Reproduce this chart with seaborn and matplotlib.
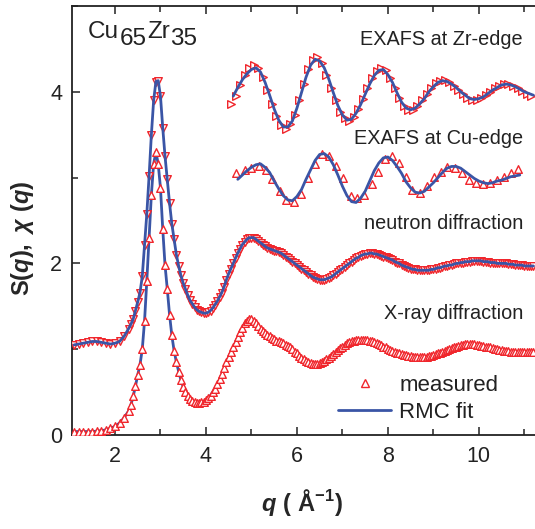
import numpy as np
import pandas as pd
import seaborn as sns
import matplotlib
matplotlib.use("Agg")
import matplotlib.pyplot as plt
from matplotlib.lines import Line2D
from matplotlib.ticker import MultipleLocator
from matplotlib.transforms import IdentityTransform

# ---------------------------------------------------------------- data
# momentum transfer grid of the diffraction data (1/Angstrom)
q_diff = np.round(np.concatenate([np.arange(1.1, 2.31, 0.1),
                                  np.arange(2.35, 11.201, 0.05)]), 2)

# X-ray diffraction S(q)
s_xray = [
    0.04, 0.04, 0.04, 0.04, 0.04, 0.045, 0.05, 0.06, 0.08, 0.10, 0.14, 0.20, 0.28,
    0.35, 0.45, 0.57, 0.70, 0.82, 1.00, 1.33, 1.80, 2.30, 2.80,
    3.16, 3.30, 3.16, 2.88, 2.40, 1.98, 1.70, 1.40, 1.16, 0.98,
    0.85, 0.74, 0.64, 0.56, 0.50, 0.45, 0.42, 0.40, 0.38, 0.37,
    0.37, 0.38, 0.39, 0.41, 0.43, 0.46, 0.50, 0.54, 0.59, 0.65,
    0.71, 0.78, 0.85, 0.91, 0.97, 1.02, 1.08, 1.14, 1.20, 1.25,
    1.30, 1.33, 1.35, 1.35, 1.33, 1.30, 1.27, 1.24, 1.21, 1.19,
    1.17, 1.15, 1.13, 1.12, 1.10, 1.09, 1.08, 1.07, 1.05, 1.04,
    1.02, 1.00, 0.97, 0.95, 0.92, 0.90, 0.88, 0.86, 0.85, 0.84,
    0.83, 0.83, 0.83, 0.84, 0.85, 0.86, 0.88, 0.90, 0.92, 0.94,
    0.97, 0.99, 1.01, 1.03, 1.05, 1.07, 1.08, 1.09, 1.10, 1.11,
    1.11, 1.11, 1.11, 1.11, 1.11, 1.10, 1.09, 1.08, 1.07, 1.06,
    1.05, 1.03, 1.02, 1.00, 0.99, 0.98, 0.97, 0.96, 0.95, 0.94,
    0.93, 0.93, 0.92, 0.92, 0.91, 0.91, 0.91, 0.91, 0.91, 0.91,
    0.91, 0.92, 0.92, 0.93, 0.94, 0.95, 0.96, 0.97, 0.98, 0.99,
    1.00, 1.01, 1.02, 1.03, 1.04, 1.05, 1.05, 1.06, 1.06, 1.06,
    1.06, 1.06, 1.05, 1.05, 1.04, 1.04, 1.03, 1.02, 1.02, 1.01,
    1.00, 1.00, 0.99, 0.99, 0.98, 0.98, 0.98, 0.97, 0.97, 0.97,
    0.97, 0.97, 0.97, 0.97, 0.97, 0.97, 0.97, 0.97,
]

# neutron diffraction S(q), shifted up by one
s_neutron = [
    1.05, 1.06, 1.07, 1.08, 1.09, 1.09, 1.08, 1.07, 1.06, 1.07, 1.09, 1.15, 1.24,
    1.29, 1.35, 1.45, 1.55, 1.66, 1.85, 2.22, 2.58, 3.02, 3.50,
    3.90, 4.12, 4.13, 3.95, 3.58, 3.25, 2.98, 2.70, 2.46, 2.28,
    2.10, 1.97, 1.86, 1.77, 1.70, 1.63, 1.57, 1.53, 1.49, 1.46,
    1.44, 1.43, 1.42, 1.42, 1.43, 1.45, 1.48, 1.52, 1.56, 1.61,
    1.66, 1.73, 1.81, 1.88, 1.94, 2.00, 2.06, 2.12, 2.17, 2.22,
    2.25, 2.28, 2.30, 2.30, 2.30, 2.28, 2.26, 2.24, 2.22, 2.20,
    2.18, 2.17, 2.16, 2.15, 2.14, 2.13, 2.12, 2.10, 2.08, 2.06,
    2.04, 2.02, 2.00, 1.98, 1.96, 1.94, 1.92, 1.90, 1.88, 1.86,
    1.84, 1.83, 1.82, 1.81, 1.81, 1.81, 1.82, 1.83, 1.84, 1.86,
    1.88, 1.90, 1.92, 1.94, 1.96, 1.98, 2.00, 2.02, 2.04, 2.06,
    2.07, 2.09, 2.10, 2.11, 2.11, 2.12, 2.12, 2.11, 2.11, 2.10,
    2.09, 2.08, 2.07, 2.06, 2.05, 2.04, 2.02, 2.01, 2.00, 1.98,
    1.97, 1.96, 1.95, 1.94, 1.93, 1.93, 1.92, 1.92, 1.92, 1.92,
    1.92, 1.92, 1.93, 1.93, 1.94, 1.95, 1.95, 1.96, 1.97, 1.97,
    1.98, 1.98, 1.99, 2.00, 2.00, 2.01, 2.01, 2.02, 2.02, 2.02,
    2.03, 2.03, 2.03, 2.03, 2.03, 2.02, 2.02, 2.02, 2.01, 2.01,
    2.01, 2.00, 2.00, 2.00, 2.00, 2.00, 1.99, 1.99, 1.99, 1.98,
    1.98, 1.98, 1.98, 1.97, 1.97, 1.97, 1.97, 1.97,
]

# EXAFS at the Zr edge (shifted to ~4)
q_zr_fit = np.round(np.arange(4.6, 11.201, 0.1), 2)
chi_zr_fit = [
    3.95, 4.05, 4.14, 4.21, 4.26, 4.28, 4.23, 4.11, 3.96, 3.80,
    3.67, 3.59, 3.59, 3.66, 3.81, 3.99, 4.17, 4.31, 4.38, 4.36,
    4.28, 4.15, 3.99, 3.84, 3.73, 3.67, 3.68, 3.75, 3.85, 3.97,
    4.09, 4.19, 4.25, 4.26, 4.20, 4.11, 3.99, 3.88, 3.81, 3.79,
    3.81, 3.86, 3.92, 4.00, 4.06, 4.11, 4.13, 4.12, 4.09, 4.05,
    4.00, 3.96, 3.92, 3.91, 3.92, 3.94, 3.98, 4.02, 4.05, 4.08,
    4.09, 4.08, 4.06, 4.03, 4.00, 3.98, 3.96,
]
q_zr_meas = np.round(np.arange(4.55, 11.151, 0.1), 2)
chi_zr_meas = [
    3.86, 3.95, 4.08, 4.20, 4.28, 4.31, 4.28, 4.17, 4.02, 3.86,
    3.72, 3.61, 3.57, 3.62, 3.73, 3.90, 4.09, 4.26, 4.37, 4.40,
    4.33, 4.20, 4.05, 3.90, 3.77, 3.69, 3.66, 3.71, 3.80, 3.92,
    4.04, 4.16, 4.24, 4.28, 4.25, 4.16, 4.05, 3.93, 3.84, 3.79,
    3.79, 3.83, 3.90, 3.97, 4.04, 4.10, 4.13, 4.14, 4.11, 4.07,
    4.02, 3.97, 3.93, 3.91, 3.91, 3.93, 3.96, 4.00, 4.04, 4.07,
    4.09, 4.09, 4.07, 4.04, 4.01, 3.98, 3.95,
]

# EXAFS at the Cu edge (shifted to ~3)
q_cu_fit = np.round(np.arange(4.7, 10.901, 0.1), 2)
chi_cu_fit = [
    2.98, 3.03, 3.08, 3.12, 3.15, 3.16, 3.12, 3.06, 2.96, 2.87,
    2.79, 2.74, 2.73, 2.78, 2.86, 2.98, 3.09, 3.20, 3.27, 3.28,
    3.24, 3.15, 3.03, 2.90, 2.79, 2.72, 2.71, 2.76, 2.84, 2.96,
    3.08, 3.17, 3.23, 3.24, 3.20, 3.13, 3.05, 2.95, 2.88, 2.83,
    2.82, 2.84, 2.89, 2.94, 3.00, 3.06, 3.11, 3.13, 3.13, 3.11,
    3.07, 3.03, 2.99, 2.96, 2.94, 2.93, 2.94, 2.96, 2.97, 2.99,
    3.01, 3.02, 3.03,
]
q_cu_meas = [4.67, 4.86, 5.00, 5.17, 5.33, 5.46, 5.63, 5.77, 5.93, 6.08,
             6.25, 6.40, 6.56, 6.71, 6.86, 7.02, 7.19, 7.33, 7.47, 7.64,
             7.79, 7.93, 8.10, 8.24, 8.39, 8.54, 8.70, 8.85, 9.01, 9.16,
             9.30, 9.47, 9.62, 9.78, 9.93, 10.10, 10.24, 10.39, 10.55, 10.70,
             10.85]
chi_cu_meas = [3.05, 3.09, 3.11, 3.14, 3.09, 2.98, 2.84, 2.74, 2.71, 2.81,
               2.99, 3.16, 3.27, 3.25, 3.14, 2.99, 2.78, 2.76, 2.80, 2.93,
               3.07, 3.22, 3.25, 3.17, 3.01, 2.85, 2.82, 2.90, 3.01, 3.07,
               3.12, 3.11, 3.05, 2.97, 2.94, 2.93, 2.94, 2.97, 3.01, 3.05,
               3.10]

curve_labels = ["EXAFS at Zr-edge", "EXAFS at Cu-edge",
                "neutron diffraction", "X-ray diffraction"]
label_pos = [(10.97, 4.61), (10.97, 3.46), (10.97, 2.46), (10.97, 1.42)]
x_ticks = [2, 4, 6, 8, 10]
y_ticks = [0, 2, 4]

# ---------------------------------------------------------------- style
sns.set_theme(style="ticks")
plt.rcParams["font.family"] = ["Liberation Sans", "DejaVu Sans"]
plt.rcParams["mathtext.fontset"] = "custom"
plt.rcParams["mathtext.rm"] = "Liberation Sans:bold"
plt.rcParams["mathtext.bf"] = "Liberation Sans:bold"
plt.rcParams["mathtext.it"] = "Liberation Sans:italic:bold"

RED = "#f0262c"
BLUE = "#3a55a6"
INK = "#222222"
MS = 30  # marker area, pt^2
LW = 2.0

W, H = 535, 529
AX_L, AX_R, AX_T, AX_B = 72, 548, 6, 435   # axes box in pixels
fig = plt.figure(figsize=(W / 100, H / 100), dpi=100)
ax = fig.add_axes([AX_L / W, (H - AX_B) / H, (AX_R - AX_L) / W, (AX_B - AX_T) / H])
ax_w, ax_h = AX_R - AX_L, AX_B - AX_T

diff = pd.DataFrame({"q": q_diff, "xray": s_xray, "neutron": s_neutron})


def fit_line(x, y, z):
    sns.lineplot(x=x, y=y, ax=ax, color=BLUE, lw=LW, sort=False,
                 estimator=None, zorder=z, legend=False)


def measured(x, y, marker, z):
    sns.scatterplot(x=x, y=y, ax=ax, marker=marker, s=MS, color="white",
                    edgecolor=RED, linewidth=1.0, zorder=z, legend=False)


# X-ray: markers over the fit
fit_line(diff["q"], diff["xray"], 2)
measured(diff["q"], diff["xray"], "^", 3)
# neutron: fit over the markers
measured(diff["q"], diff["neutron"], "v", 4)
fit_line(diff["q"], diff["neutron"], 5)
# EXAFS
measured(q_cu_meas, chi_cu_meas, "^", 4)
fit_line(q_cu_fit, chi_cu_fit, 5)
measured(q_zr_meas, chi_zr_meas, ">", 4)
fit_line(q_zr_fit, chi_zr_fit, 5)

ax.set_xlim(1.055, 11.52)
ax.set_ylim(0, 5.0)
ax.set_xticks(x_ticks)
ax.set_yticks(y_ticks)
ax.xaxis.set_minor_locator(MultipleLocator(1))
ax.yaxis.set_minor_locator(MultipleLocator(1))
ax.tick_params(which="both", direction="in", top=True, right=False,
               width=1.1, colors=INK, labelsize=15.5)
ax.tick_params(which="major", length=6)
ax.tick_params(which="minor", length=4)
ax.tick_params(axis="y", pad=7)
ax.tick_params(axis="x", pad=8)
for s in ax.spines.values():
    s.set_linewidth(1.3)
    s.set_color(INK)

ax.set_xlabel(r"$q\mathrm{\ (\ \AA^{-1})}$", fontsize=17)
ax.set_ylabel(r"$\mathrm{S(}q\mathrm{),\ }\chi\mathrm{\ (}q\mathrm{)}$", fontsize=17)
ax.xaxis.set_label_coords((302 - AX_L) / ax_w, -(487 - AX_B) / ax_h)
ax.yaxis.set_label_coords(-(AX_L - 36) / ax_w, (AX_B - 238) / ax_h)

for txt, (xq, yv) in zip(curve_labels, label_pos):
    ax.text(xq, yv, txt, ha="right", va="center", fontsize=14.3,
            color=INK, zorder=6)

# composition label: each piece is placed after the previous one,
# the atomic fractions lowered as indices
prev = fig.text(88, H - 38, "Cu", transform=IdentityTransform(),
                fontsize=17.5, color=INK, va="baseline")
for piece, dy in [("65", -5), ("Zr", 5), ("35", -5)]:
    prev = ax.annotate(piece, xy=(1, 0), xycoords=prev,
                       xytext=(0.3, dy), textcoords="offset points",
                       fontsize=17.5, color=INK, va="bottom", ha="left")

handles = [Line2D([], [], ls="none", marker="^", ms=5.5, mfc="white",
                  mec=RED, mew=1.0),
           Line2D([], [], color=BLUE, lw=LW)]
leg = ax.legend(handles, ["measured", "RMC fit"], loc="center left",
                bbox_to_anchor=((338 - AX_L) / ax_w, (AX_B - 399) / ax_h),
                frameon=False, fontsize=16, handlelength=2.4,
                handletextpad=0.35, labelspacing=0.25, borderpad=0,
                borderaxespad=0, numpoints=1)
for t in leg.get_texts():
    t.set_color(INK)

fig.savefig("out.png", dpi=100)
